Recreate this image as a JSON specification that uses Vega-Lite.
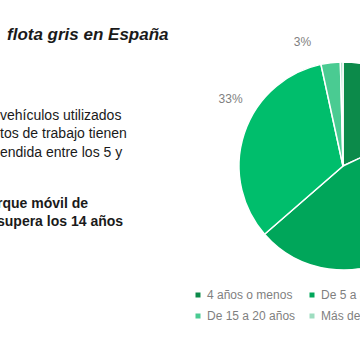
{
  "$schema": "https://vega.github.io/schema/vega-lite/v6.json",
  "usermeta": {"embedOptions": {"actions": false}},
  "width": 686,
  "height": 332,
  "padding": 0,
  "autosize": {"type": "none"},
  "background": "#ffffff",
  "config": {"view": {"stroke": null}, "font": "Liberation Sans"},
  "datasets": {
    "ages": [
      {"k": 1, "cat": "4 años o menos", "pct": 18.0, "label": "18%"},
      {"k": 2, "cat": "De 5 a 8 años", "pct": 45.6, "label": "46%"},
      {"k": 3, "cat": "De 9 a 14 años", "pct": 33.0, "label": "33%"},
      {"k": 4, "cat": "De 15 a 20 años", "pct": 3.0, "label": "3%"},
      {"k": 5, "cat": "Más de 20 años", "pct": 0.4, "label": "0%"}
    ],
    "lines": [
      {"line": 2, "part": "title", "text": "flota gris en España"},
      {"line": 6, "part": "body", "text": "\u00a0vehículos utilizados"},
      {"line": 7, "part": "body", "text": "tos de trabajo tienen"},
      {"line": 8, "part": "body", "text": "endida entre los 5 y"},
      {"line": 11, "part": "bold", "text": "rque móvil de"},
      {"line": 12, "part": "bold", "text": "supera los 14 años"}
    ]
  },
  "layer": [
    {
      "data": {"name": "ages"},
      "mark": {"type": "arc", "outerRadius": 104, "stroke": "#ffffff", "strokeWidth": 1.5},
      "encoding": {
        "theta": {"field": "pct", "type": "quantitative", "stack": true},
        "order": {"field": "k", "type": "quantitative"},
        "color": {
          "field": "cat",
          "type": "nominal",
          "scale": {
            "domain": ["4 años o menos", "De 5 a 8 años", "De 9 a 14 años", "De 15 a 20 años", "Más de 20 años"],
            "range": ["#0c8a4a", "#00a65a", "#00be6c", "#4acb92", "#9eddc0"]
          },
          "legend": {
            "title": null,
            "orient": "none",
            "legendX": 192,
            "legendY": 289,
            "direction": "horizontal",
            "columns": 3,
            "gridAlign": "none",
            "symbolType": "square",
            "symbolSize": 25,
            "symbolStrokeWidth": 0,
            "labelFontSize": 12,
            "labelFont": "Liberation Sans",
            "labelColor": "#7f7f7f",
            "labelOffset": 3,
            "columnPadding": 10,
            "rowPadding": 9
          }
        }
      }
    },
    {
      "data": {"name": "ages"},
      "mark": {"type": "text", "radius": 130, "dx": 11, "dy": -26, "fontSize": 12, "fill": "#7f7f7f", "font": "Liberation Sans"},
      "encoding": {
        "theta": {"field": "pct", "type": "quantitative", "stack": true},
        "order": {"field": "k", "type": "quantitative"},
        "detail": {"field": "cat", "type": "nominal"},
        "text": {"condition": {"test": "datum.k === 3", "field": "label"}, "value": ""}
      }
    },
    {
      "data": {"name": "ages"},
      "mark": {"type": "text", "radius": 130, "dx": -25, "dy": 5, "fontSize": 12, "fill": "#7f7f7f", "font": "Liberation Sans"},
      "encoding": {
        "theta": {"field": "pct", "type": "quantitative", "stack": true},
        "order": {"field": "k", "type": "quantitative"},
        "detail": {"field": "cat", "type": "nominal"},
        "text": {"condition": {"test": "datum.k === 4", "field": "label"}, "value": ""}
      }
    },
    {
      "data": {"name": "lines"},
      "transform": [{"filter": "datum.part === 'title'"}],
      "mark": {"type": "text", "align": "left", "baseline": "middle", "dx": 7, "dy": -2, "fontSize": 17, "fontWeight": "bold", "fontStyle": "italic", "fill": "#1a1a1a", "font": "Liberation Sans"},
      "encoding": {
        "y": {"field": "line", "type": "ordinal", "scale": {"type": "point", "domain": [0,1,2,3,4,5,6,7,8,9,10,11,12,13,14,15,16,17,18], "padding": 0}, "axis": null},
        "x": {"value": 0},
        "text": {"field": "text"}
      }
    },
    {
      "data": {"name": "lines"},
      "transform": [{"filter": "datum.part === 'body'"}],
      "mark": {"type": "text", "align": "left", "baseline": "middle", "dx": 0, "dy": 5, "fontSize": 14, "fill": "#1a1a1a", "font": "Liberation Sans"},
      "encoding": {
        "y": {"field": "line", "type": "ordinal", "scale": {"type": "point", "domain": [0,1,2,3,4,5,6,7,8,9,10,11,12,13,14,15,16,17,18], "padding": 0}, "axis": null},
        "x": {"value": 0},
        "text": {"field": "text"}
      }
    },
    {
      "data": {"name": "lines"},
      "transform": [{"filter": "datum.part === 'bold'"}],
      "mark": {"type": "text", "align": "left", "baseline": "middle", "dx": -3, "dy": 1, "fontSize": 14, "fontWeight": "bold", "fill": "#1a1a1a", "font": "Liberation Sans"},
      "encoding": {
        "y": {"field": "line", "type": "ordinal", "scale": {"type": "point", "domain": [0,1,2,3,4,5,6,7,8,9,10,11,12,13,14,15,16,17,18], "padding": 0}, "axis": null},
        "x": {"value": 0},
        "text": {"field": "text"}
      }
    }
  ]
}
